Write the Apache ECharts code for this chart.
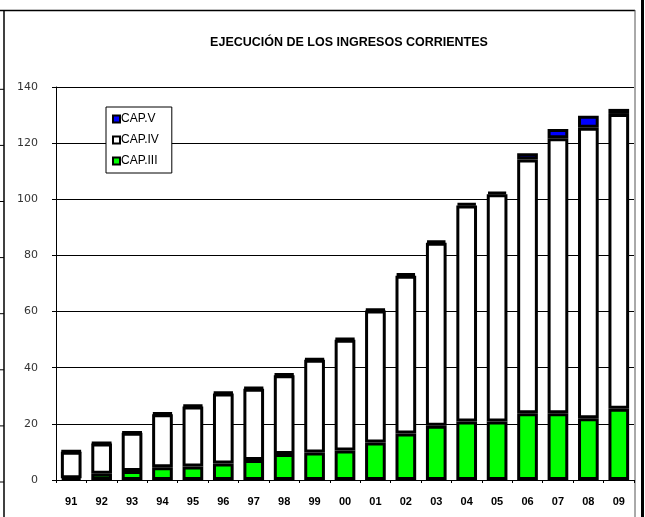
<!DOCTYPE html>
<html>
<head>
<meta charset="utf-8">
<script src="https://cdn.jsdelivr.net/npm/echarts@6/dist/echarts.min.js"></script>
<style>html,body{margin:0;padding:0;background:#fff}#c{width:645px;height:517px}</style>
</head>
<body>
<div id="c"></div>
<script>
var categories = ['91','92','93','94','95','96','97','98','99','00','01','02','03','04','05','06','07','08','09'];
var capIII = [0.6, 2.2, 3.2, 4.5, 4.8, 5.9, 7.1, 9.3, 9.8, 10.5, 13.4, 16.6, 19.3, 20.8, 20.8, 23.8, 23.8, 22.0, 25.4];
var capIV  = [9.5, 10.8, 13.6, 18.9, 21.4, 24.9, 25.4, 28.0, 33.0, 39.5, 47.0, 56.2, 65.2, 77.0, 81.0, 90.4, 97.9, 103.5, 105.0];
var capV   = [0.3, 0.3, 0.3, 0.5, 0.5, 0.5, 0.5, 0.5, 0.5, 0.5, 0.5, 0.8, 0.8, 0.8, 0.9, 2.2, 3.3, 4.3, 1.8];
var yTicks = [0, 20, 40, 60, 80, 100, 120, 140];

var chart = echarts.init(document.getElementById('c'));
var bw = 3;
function ser(name, data, color) {
  return {
    name: name, type: 'bar', stack: 'total', data: data, barWidth: '68%',
    itemStyle: {color: color, borderColor: '#000', borderWidth: bw},
    emphasis: {disabled: true}
  };
}
var leftTicks = [];
yTicks.forEach(function (v, i) {
  leftTicks.push({type: 'line', shape: {x1: 0, y1: 482 - i * 56.1, x2: 4, y2: 482 - i * 56.1}, style: {stroke: '#000', lineWidth: 1}});
});
chart.setOption({
  animation: false,
  backgroundColor: '#fff',
  title: {
    text: 'EJECUCIÓN DE LOS INGRESOS CORRIENTES',
    left: 344, top: 31, textAlign: 'center',
    textStyle: {fontFamily: 'Liberation Sans, Arial, sans-serif', fontSize: 12.5, fontWeight: 'bold', color: '#000'}
  },
  legend: {
    orient: 'vertical', left: 106, top: 107,
    data: ['CAP.V', 'CAP.IV', 'CAP.III'],
    itemWidth: 7, itemHeight: 7, itemGap: 9,
    icon: 'rect',
    padding: [6, 13, 6, 6],
    backgroundColor: '#fff', borderColor: '#000', borderWidth: 1, borderRadius: 0,
    textStyle: {fontFamily: 'Liberation Sans, Arial, sans-serif', fontSize: 12, color: '#000', padding: [0, 0, 0, -4]},
    itemStyle: {borderWidth: 2, borderColor: '#000'}
  },
  grid: {left: 56, right: 11, top: 87, bottom: 37, containLabel: false},
  xAxis: {
    type: 'category', data: categories,
    axisLine: {lineStyle: {color: '#000', width: 1}},
    axisTick: {show: true, alignWithLabel: false, length: 3, lineStyle: {color: '#000'}},
    axisLabel: {fontFamily: 'Liberation Sans, Arial, sans-serif', fontSize: 11, fontWeight: 'bold', color: '#000', margin: 16}
  },
  yAxis: {
    type: 'value', min: 0, max: 140, interval: 20,
    axisLine: {show: true, lineStyle: {color: '#000', width: 1}},
    axisTick: {show: true, length: 4, lineStyle: {color: '#000'}},
    splitLine: {show: true, lineStyle: {color: '#000', width: 1}},
    axisLabel: {fontFamily: 'DejaVu Sans, Verdana, sans-serif', fontSize: 11, color: '#333', margin: 18}
  },
  series: [
    ser('CAP.III', capIII, '#00ff00'),
    ser('CAP.IV', capIV, '#ffffff'),
    ser('CAP.V', capV, '#0000ff')
  ],
  graphic: [
    {type: 'line', shape: {x1: 4, y1: 10, x2: 4, y2: 517}, style: {stroke: '#000', lineWidth: 1.5}},
    {type: 'line', shape: {x1: 0, y1: 10.5, x2: 635, y2: 10.5}, style: {stroke: '#000', lineWidth: 1.5}},
    {type: 'line', shape: {x1: 635, y1: 10, x2: 635, y2: 517}, style: {stroke: '#555', lineWidth: 1}},
    {type: 'line', shape: {x1: 642.5, y1: 0, x2: 642.5, y2: 517}, style: {stroke: '#000', lineWidth: 3}}
  ].concat(leftTicks)
});
</script>
</body>
</html>
